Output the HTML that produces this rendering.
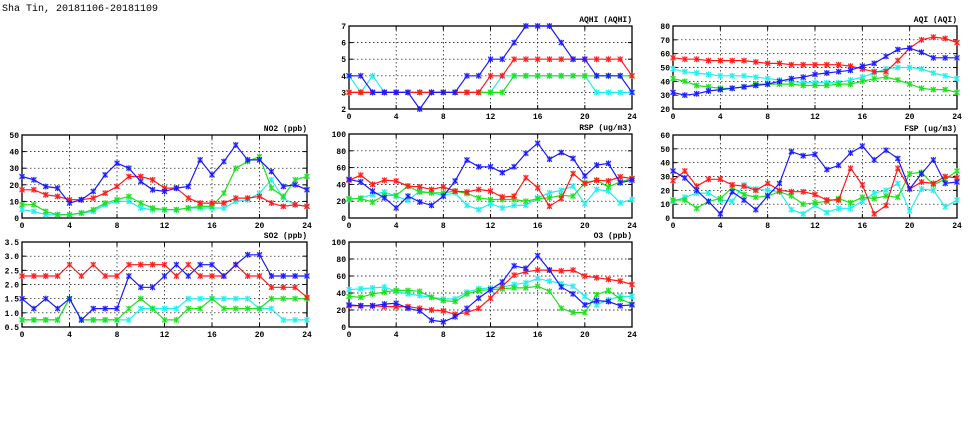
<!DOCTYPE html>
<html><head><meta charset="utf-8"><style>
html,body{margin:0;padding:0;background:#fff;}
svg{display:block;}
text{font-family:"Liberation Mono","DejaVu Sans Mono",monospace;font-weight:bold;fill:#000;}
</style></head><body>
<svg id="s" width="975" height="447" xmlns="http://www.w3.org/2000/svg">
<text x="2" y="11" font-size="10" font-weight="normal" style="font-weight:normal">Sha Tin, 20181106-20181109</text>
</svg>
<script>
var S=document.getElementById('s'),NS='http://www.w3.org/2000/svg';
function el(t,a,txt){var e=document.createElementNS(NS,t);for(var k in a)e.setAttribute(k,a[k]);if(txt!=null)e.textContent=txt;S.appendChild(e);return e;}
var C={b:'#1a1aff',r:'#ff1a1a',g:'#1ee01e',c:'#22eeee'};
var panels=[
{t:'AQHI (AQHI)',x0:349,x1:632,y0:26,y1:109,min:2,max:7,ticks:[2,3,4,5,6,7],f:0,s:{
c:[4,3,4,3,3,3,3,3,3,3,3,3,3,4,4,4,4,4,4,4,4,3,3,3,3],
g:[3,3,3,3,3,3,3,3,3,3,3,3,3,3,4,4,4,4,4,4,4,4,4,4,4],
r:[3,3,3,3,3,3,3,3,3,3,3,3,4,4,5,5,5,5,5,5,5,5,5,5,4],
b:[4,4,3,3,3,3,2,3,3,3,4,4,5,5,6,7,7,7,6,5,5,4,4,4,3]}},
{t:'AQI (AQI)',x0:673,x1:957,y0:26,y1:109,min:20,max:80,ticks:[20,30,40,50,60,70,80],f:0,s:{
c:[49,47,46,45,44,44,44,43,42,41,40,39,39,39,39,41,43,46,49,50,50,49,46,44,42],
g:[42,40,37,36,35,35,36,38,38,38,38,37,37,37,38,38,40,42,43,41,38,35,34,34,32],
r:[57,56,56,55,55,55,55,54,53,53,52,52,52,52,52,51,49,47,47,55,64,70,72,71,68],
b:[32,30,31,33,34,35,36,37,38,40,42,43,45,46,47,48,51,53,58,63,64,61,57,57,57]}},
{t:'NO2 (ppb)',x0:22,x1:307,y0:135,y1:218,min:0,max:50,ticks:[0,10,20,30,40,50],f:0,s:{
c:[5,4,2,2,2,3,4,8,10,10,6,5,5,5,6,6,6,6,10,11,15,23,12,8,7],
g:[8,8,4,2,2,3,5,9,11,13,9,6,5,5,6,7,7,15,30,34,37,18,13,23,25],
r:[17,17,14,13,11,11,12,15,19,25,25,23,18,18,12,9,9,9,12,12,13,9,7,8,7],
b:[25,23,19,18,9,11,16,26,33,30,22,17,16,18,19,35,26,34,44,35,35,28,19,20,17]}},
{t:'RSP (ug/m3)',x0:349,x1:632,y0:134,y1:218,min:0,max:100,ticks:[0,20,40,60,80,100],f:0,s:{
c:[22,24,28,31,26,21,32,30,27,30,15,10,17,12,15,15,24,30,33,38,17,34,32,18,22],
g:[23,23,19,27,27,38,31,30,30,32,29,24,22,22,22,20,23,24,27,26,42,45,37,43,47],
r:[45,51,40,45,44,38,37,34,37,32,31,34,32,25,26,48,36,14,23,53,41,45,44,49,47],
b:[46,43,32,24,12,26,19,15,26,44,69,61,61,54,61,77,89,70,78,71,50,63,65,42,45]}},
{t:'FSP (ug/m3)',x0:673,x1:957,y0:135,y1:218,min:0,max:60,ticks:[0,10,20,30,40,50,60],f:0,s:{
c:[12,15,18,18,13,12,24,21,20,19,6,3,9,4,7,7,12,18,20,25,5,21,20,8,13],
g:[13,13,7,12,14,22,17,15,16,19,16,10,11,12,14,11,15,14,16,15,32,33,24,28,34],
r:[27,34,23,28,28,24,23,20,25,20,19,19,17,13,13,36,24,3,9,36,21,26,25,30,29],
b:[34,29,20,12,3,19,13,6,16,25,48,45,46,35,38,47,52,42,49,43,21,32,42,25,26]}},
{t:'SO2 (ppb)',x0:22,x1:307,y0:242,y1:327,min:0.5,max:3.5,ticks:[0.5,1,1.5,2,2.5,3,3.5],f:1,s:{
c:[.75,.75,.75,.75,1.5,.75,.75,.75,.75,.75,1.15,1.15,1.15,1.15,1.5,1.5,1.5,1.5,1.5,1.5,1.15,1.15,.75,.75,.75],
g:[.75,.75,.75,.75,1.5,.75,.75,.75,.75,1.15,1.5,1.15,.75,.75,1.15,1.15,1.5,1.15,1.15,1.15,1.15,1.5,1.5,1.5,1.5],
r:[2.3,2.3,2.3,2.3,2.7,2.3,2.7,2.3,2.3,2.7,2.7,2.7,2.7,2.3,2.7,2.3,2.3,2.3,2.7,2.3,2.3,1.9,1.9,1.9,1.55],
b:[1.5,1.15,1.5,1.15,1.5,.75,1.15,1.15,1.15,2.3,1.9,1.9,2.3,2.7,2.3,2.7,2.7,2.3,2.7,3.05,3.05,2.3,2.3,2.3,2.3]}},
{t:'O3 (ppb)',x0:349,x1:632,y0:242,y1:327,min:0,max:100,ticks:[0,20,40,60,80,100],f:0,s:{
c:[44,45,46,47,42,39,37,35,33,33,41,45,46,47,50,52,57,54,51,48,36,26,32,36,36],
g:[36,35,39,41,43,43,42,35,31,30,39,43,44,45,46,46,48,42,22,17,17,38,43,33,27],
r:[25,25,25,24,24,24,22,20,19,15,17,22,34,48,61,65,67,67,66,67,60,58,56,54,50],
b:[26,25,25,27,28,22,19,8,6,12,22,34,44,53,72,69,84,67,47,39,26,31,30,25,26]}}
];
panels.forEach(function(p){
 var X=function(i){return p.x0+(p.x1-p.x0)*i/24;},Y=function(v){return p.y1-(p.y1-p.y0)*(v-p.min)/(p.max-p.min);};
 // grid
 p.ticks.forEach(function(v,k){var y=Y(v);
  if(k>0&&k<p.ticks.length-1)el('line',{x1:p.x0,x2:p.x1,y1:y,y2:y,stroke:'#000','stroke-width':0.7,'stroke-dasharray':'1.5,2.5'});
  el('line',{x1:p.x0,x2:p.x0+4,y1:y,y2:y,stroke:'#000','stroke-width':1});
  el('line',{x1:p.x1-4,x2:p.x1,y1:y,y2:y,stroke:'#000','stroke-width':1});
  el('text',{x:p.x0-3,y:y+3,'font-size':8,'text-anchor':'end'},p.f?v.toFixed(1):String(v));
 });
 for(var i=0;i<=24;i+=4){var x=X(i);
  if(i>0&&i<24)el('line',{x1:x,x2:x,y1:p.y0,y2:p.y1,stroke:'#000','stroke-width':0.7,'stroke-dasharray':'1.5,2.5'});
  el('line',{x1:x,x2:x,y1:p.y1,y2:p.y1-4,stroke:'#000'});el('line',{x1:x,x2:x,y1:p.y0,y2:p.y0+4,stroke:'#000'});
  el('text',{x:x,y:p.y1+10,'font-size':8,'text-anchor':'middle'},String(i));}
 el('rect',{x:p.x0,y:p.y0,width:p.x1-p.x0,height:p.y1-p.y0,fill:'none',stroke:'#000','stroke-width':1.3});
 el('text',{x:p.x1,y:p.y0-4,'font-size':8,'text-anchor':'end'},p.t);
 ['c','g','r','b'].forEach(function(k){var d=p.s[k],pts=d.map(function(v,i){return X(i).toFixed(1)+','+Y(v).toFixed(1);}).join(' ');
  el('polyline',{points:pts,fill:'none',stroke:C[k],'stroke-width':1.2});
  d.forEach(function(v,i){var x=X(i),y=Y(v);
   el('rect',{x:x-2.5,y:y-2.5,width:5,height:5,fill:C[k],'fill-opacity':0.35});
   el('path',{d:'M'+(x-2.5)+','+(y-2.5)+'L'+(x+2.5)+','+(y+2.5)+'M'+(x-2.5)+','+(y+2.5)+'L'+(x+2.5)+','+(y-2.5)+'M'+x+','+(y-3)+'L'+x+','+(y+3),stroke:C[k],'stroke-width':1});
  });
 });
});
</script>
</body></html>
